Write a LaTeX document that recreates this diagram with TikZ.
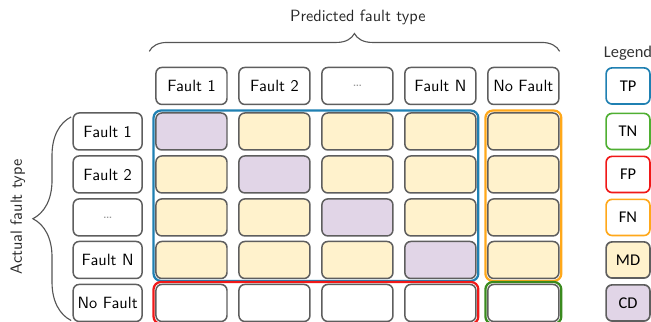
\documentclass[tikz,border=0pt]{standalone}
\usepackage{fontspec}
\newfontfamily\legendfont{Carlito}
\usetikzlibrary{positioning,fit,backgrounds,calc,decorations.pathreplacing}
\definecolor{cBorder}{HTML}{5E5E5E}
\definecolor{cMD}{HTML}{FFF2CC}
\definecolor{cCD}{HTML}{E1D5E7}
\definecolor{cTP}{HTML}{1F80B2}
\definecolor{cTN}{HTML}{4FAF32}
\definecolor{cTNdark}{HTML}{3A8A1E}
\definecolor{cFP}{HTML}{F01818}
\definecolor{cFN}{HTML}{FFA81A}
\definecolor{cBrace}{HTML}{555555}
\tikzset{
  hdrbox/.style={
    draw=cBorder, fill=white, rounded corners=4pt, line width=1pt,
    minimum width=1.67cm, minimum height=0.87cm, inner sep=0pt,
    text centered, font=\sffamily\fontsize{10.9}{13}\selectfont,
  },
  mdcell/.style={hdrbox, fill=cMD},
  cdcell/.style={hdrbox, fill=cCD},
  legbox/.style={
    draw, fill=white, rounded corners=4pt, line width=1.1pt,
    minimum width=1.03cm, minimum height=0.85cm, inner sep=0pt,
    text centered, font=\legendfont\fontsize{11}{13}\selectfont,
  },
  frame/.style={
    draw, rounded corners=5pt, line width=1.5pt, inner sep=0.04cm,
  },
  bracedeco/.style={
    decorate, draw=cBrace, line width=0.75pt,
  },
  axislabel/.style={
    font=\sffamily\fontsize{10.9}{13}\selectfont, text=black!85,
  },
}
\newcommand{\gapdots}{\textcolor{black!40}{\dots}}

\begin{document}
\begin{tikzpicture}

\useasboundingbox (0,0) rectangle (15.30,-7.567);

% ═══════════════════════════════════════════════════════════════
%  HEADERS  (columns = predicted, rows = actual)
% ═══════════════════════════════════════════════════════════════
\node[hdrbox] (colF1)   at (4.50,-2.02) {Fault 1};
\node[hdrbox] (colF2)   at (6.45,-2.02) {Fault 2};
\node[hdrbox] (colDots) at (8.40,-2.02) {\gapdots};
\node[hdrbox] (colFN)   at (10.35,-2.02) {Fault N};
\node[hdrbox] (colNF)   at (12.30,-2.02) {No Fault};

\node[hdrbox, minimum width=1.62cm] (rowF1)   at (2.53,-3.09) {Fault 1};
\node[hdrbox, minimum width=1.62cm] (rowF2)   at (2.53,-4.10) {Fault 2};
\node[hdrbox, minimum width=1.62cm] (rowDots) at (2.53,-5.11) {\gapdots};
\node[hdrbox, minimum width=1.62cm] (rowFN)   at (2.53,-6.11) {Fault N};
\node[hdrbox, minimum width=1.62cm] (rowNF)   at (2.53,-7.12) {No Fault};

% ═══════════════════════════════════════════════════════════════
%  MATRIX CELLS
% ═══════════════════════════════════════════════════════════════
% ── row Fault 1 ──
\node[cdcell] (c11) at (4.50,-3.09) {};
\node[mdcell] (c12) at (6.45,-3.09) {};
\node[mdcell] (c13) at (8.40,-3.09) {};
\node[mdcell] (c14) at (10.35,-3.09) {};
\node[mdcell] (c15) at (12.30,-3.09) {};
% ── row Fault 2 ──
\node[mdcell] (c21) at (4.50,-4.10) {};
\node[cdcell] (c22) at (6.45,-4.10) {};
\node[mdcell] (c23) at (8.40,-4.10) {};
\node[mdcell] (c24) at (10.35,-4.10) {};
\node[mdcell] (c25) at (12.30,-4.10) {};
% ── row dots ──
\node[mdcell] (c31) at (4.50,-5.11) {};
\node[mdcell] (c32) at (6.45,-5.11) {};
\node[cdcell] (c33) at (8.40,-5.11) {};
\node[mdcell] (c34) at (10.35,-5.11) {};
\node[mdcell] (c35) at (12.30,-5.11) {};
% ── row Fault N ──
\node[mdcell] (c41) at (4.50,-6.11) {};
\node[mdcell] (c42) at (6.45,-6.11) {};
\node[mdcell] (c43) at (8.40,-6.11) {};
\node[cdcell] (c44) at (10.35,-6.11) {};
\node[mdcell] (c45) at (12.30,-6.11) {};
% ── row No Fault ──
\node[hdrbox] (c51) at (4.50,-7.12) {};
\node[hdrbox] (c52) at (6.45,-7.12) {};
\node[hdrbox] (c53) at (8.40,-7.12) {};
\node[hdrbox] (c54) at (10.35,-7.12) {};
\node[hdrbox] (c55) at (12.30,-7.12) {};

% ═══════════════════════════════════════════════════════════════
%  OUTCOME REGIONS
% ═══════════════════════════════════════════════════════════════
\begin{scope}[on background layer]
  \node[frame, draw=cTP,     fit=(c11)(c44)] (regTP) {};
  \node[frame, draw=cFN,     fit=(c15)(c45)] (regFN) {};
  \node[frame, draw=cFP,     fit=(c51)(c54)] (regFP) {};
  \node[frame, draw=cTNdark, fit=(c55)]      (regTN) {};
\end{scope}

% ═══════════════════════════════════════════════════════════════
%  LEGEND
% ═══════════════════════════════════════════════════════════════
\node[font=\legendfont\fontsize{11}{13}\selectfont, text=black!80] (legTitle) at (14.76,-1.245) {Legend};
\node[legbox, draw=cTP]  (legTP) at (14.76,-2.02) {TP};
\node[legbox, draw=cTN]  (legTN) at (14.76,-3.09) {TN};
\node[legbox, draw=cFP]  (legFP) at (14.76,-4.10) {FP};
\node[legbox, draw=cFN]  (legFN) at (14.76,-5.11) {FN};
\node[legbox, draw=cBorder, fill=cMD] (legMD) at (14.76,-6.11) {MD};
\node[legbox, draw=cBorder, fill=cCD] (legCD) at (14.76,-7.12) {CD};

% ═══════════════════════════════════════════════════════════════
%  BRACES + AXIS LABELS
% ═══════════════════════════════════════════════════════════════
\draw[bracedeco, decoration={brace, amplitude=0.42cm}]
  ($(colF1.north west)+(-0.14,0.36)$) -- ($(colNF.north east)+(0,0.36)$);
\node[axislabel] (predLbl) at (8.41,-0.40) {Predicted fault type};

\draw[bracedeco, decoration={brace, amplitude=0.9cm}]
  ($(rowNF.south west)+(-0.03,0.04)$) -- ($(rowF1.north west)+(-0.03,-0.11)$);
\node[axislabel, rotate=90] (actLbl) at (0.42,-5.10) {Actual fault type};

\end{tikzpicture}
\end{document}
